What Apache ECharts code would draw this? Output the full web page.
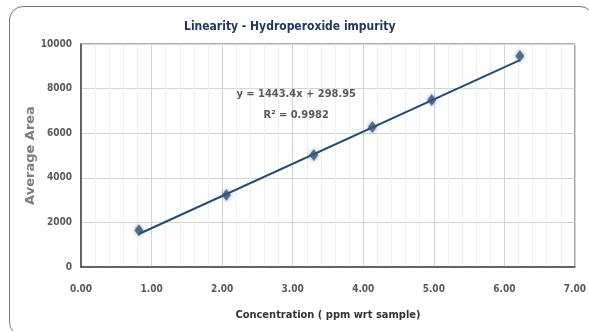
<!DOCTYPE html>
<html>
<head>
<meta charset="utf-8">
<script src="https://cdn.jsdelivr.net/npm/echarts@6/dist/echarts.min.js"></script>
<style>
  html, body { margin: 0; padding: 0; background: #fff; }
  #frame {
    position: absolute; left: 9px; top: 6px; width: 585px; height: 330px;
    border: 1.5px solid #777; border-radius: 14px; box-sizing: border-box;
  }
  #chart { position: absolute; left: 0; top: 0; width: 589px; height: 331px; }
</style>
</head>
<body>
<div id="frame"></div>
<div id="chart"></div>
<script>
// concentration (ppm wrt sample) vs average area
const concentration = [0.82, 2.06, 3.30, 4.13, 4.97, 6.22];
const avgArea = [1650, 3230, 5020, 6280, 7490, 9460];
// trendline end points
const trendX = [0.82, 6.22];
const trendY = [1480, 9280];
const xTicks = ['0.00', '1.00', '2.00', '3.00', '4.00', '5.00', '6.00', '7.00'];

const chart = echarts.init(document.getElementById('chart'));

const narrow = 'DejaVu Sans Condensed, Liberation Sans Narrow, Liberation Sans, Arial';
const labelFont = { color: '#595959', fontSize: 10, fontWeight: 'bold', fontFamily: narrow };

chart.setOption({
  animation: false,
  title: {
    text: 'Linearity - Hydroperoxide impurity',
    left: 179,
    top: 16,
    textStyle: { color: '#1f3864', fontSize: 12, fontWeight: 'bold', fontFamily: narrow }
  },
  grid: { left: 81, right: 14, top: 44, bottom: 64, show: true, borderColor: '#666', borderWidth: 1 },
  xAxis: {
    type: 'value',
    min: 0, max: 7, interval: 1,
    name: 'Concentration ( ppm wrt sample)',
    nameLocation: 'middle',
    nameGap: 43,
    nameTextStyle: { color: '#333', fontSize: 11, fontWeight: 'bold', fontFamily: narrow },
    axisLine: { lineStyle: { color: '#444', width: 1.5 } },
    axisTick: { show: false },
    axisLabel: Object.assign({ margin: 17, formatter: (v) => xTicks[Math.round(v)] }, labelFont),
    splitLine: { show: true, lineStyle: { color: '#d4d4d4' } },
    minorTick: { show: false, splitNumber: 5 },
    minorSplitLine: { show: true, lineStyle: { color: '#efefef' } }
  },
  yAxis: {
    type: 'value',
    min: 0, max: 10000, interval: 2000,
    name: 'Average Area',
    nameLocation: 'middle',
    nameGap: 44,
    nameMoveOverlap: false,
    nameTextStyle: { color: '#7f7f7f', fontSize: 13, fontWeight: 'bold', fontFamily: 'DejaVu Sans, Liberation Sans, Arial' },
    axisLine: { show: true, lineStyle: { color: '#444', width: 1.5 } },
    axisTick: { show: false },
    axisLabel: Object.assign({ margin: 9, formatter: (v) => String(v) }, labelFont),
    splitLine: { show: true, lineStyle: { color: '#d4d4d4' } }
  },
  series: [
    {
      type: 'line',
      data: trendX.map((x, i) => [x, trendY[i]]),
      showSymbol: false,
      lineStyle: { color: '#1f4e79', width: 2 },
      z: 2
    },
    {
      type: 'scatter',
      data: concentration.map((x, i) => [x, avgArea[i]]),
      symbol: 'diamond',
      symbolSize: [9, 12],
      itemStyle: { color: '#34587a', shadowBlur: 4, shadowColor: 'rgba(40,70,100,0.6)' },
      z: 3,
      markPoint: {
        symbol: 'rect', symbolSize: 0,
        data: [{
          coord: [3.05, 7300],
          label: {
            show: true,
            formatter: 'y = 1443.4x + 298.95\nR² = 0.9982',
            color: '#595959', fontSize: 11, fontWeight: 'bold', lineHeight: 21,
            fontFamily: narrow
          }
        }]
      }
    }
  ]
});
</script>
</body>
</html>
